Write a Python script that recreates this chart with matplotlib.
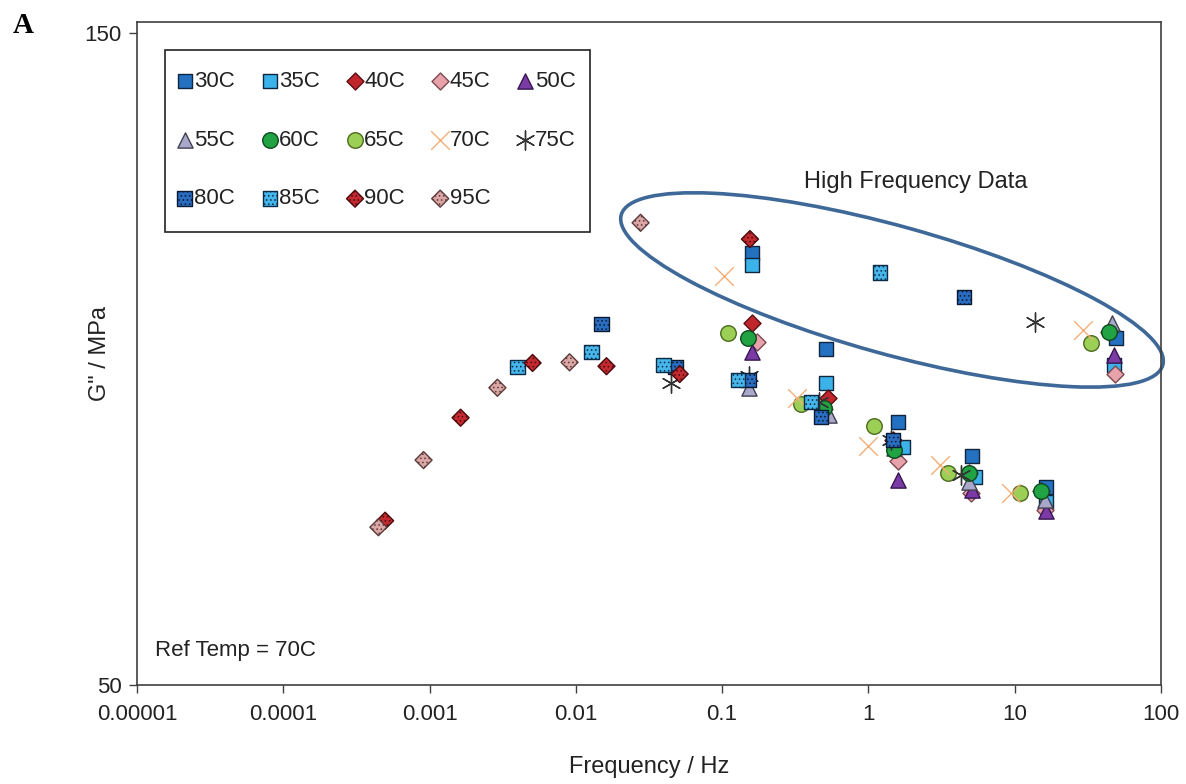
import matplotlib
matplotlib.use("Agg")
import matplotlib.pyplot as plt
from matplotlib.patches import Ellipse, Rectangle
from matplotlib.transforms import ScaledTranslation

plt.rcParams["font.family"] = ["Liberation Sans", "DejaVu Sans"]
plt.rcParams["hatch.linewidth"] = 0.6

# frequency (Hz) and G'' (MPa) per temperature
temps = ["30C", "35C", "40C", "45C", "50C", "55C", "60C",
         "65C", "70C", "75C", "80C", "85C", "90C", "95C"]

f_30 = [0.16, 0.51, 1.59, 5.1, 16.4, 49.4]
g_30 = [116.3, 101.5, 90.3, 85.1, 80.4, 103.2]
f_35 = [0.16, 0.51, 1.72, 5.36, 16.4, 48.0]
g_35 = [114.4, 96.3, 86.5, 81.9, 78.1, 99.1]
f_40 = [0.16, 0.53, 1.47, 4.87, 15.2, 44.3]
g_40 = [105.5, 94.0, 87.6, 82.5, 79.8, 104.1]
f_45 = [0.173, 0.5, 1.59, 5.05, 16.2, 48.7]
g_45 = [102.6, 92.3, 84.4, 79.5, 76.9, 97.7]
f_50 = [0.16, 0.53, 1.59, 5.1, 16.4, 48.0]
g_50 = [101.1, 91.6, 81.4, 79.9, 76.7, 100.6]
f_55 = [0.152, 0.54, 1.5, 4.9, 16.0, 46.0]
g_55 = [95.6, 91.4, 86.3, 81.1, 78.4, 105.5]
f_60 = [0.15, 0.495, 1.49, 4.87, 15.2, 44.3]
g_60 = [103.2, 92.5, 86.0, 82.5, 79.8, 104.1]
f_65 = [0.109, 0.345, 1.09, 3.5, 10.9, 33.3]
g_65 = [104.0, 93.1, 89.7, 82.5, 79.4, 102.5]
f_70 = [0.103, 0.325, 1.0, 3.09, 9.45, 29.4]
g_70 = [112.7, 94.0, 86.7, 83.7, 79.4, 104.4]
f_75 = [0.045, 0.152, 0.458, 1.43, 4.3, 13.8]
g_75 = [96.3, 97.4, 93.4, 87.6, 82.2, 105.7]
f_80 = [0.015, 0.048, 0.152, 0.473, 1.47, 4.51]
g_80 = [105.4, 98.8, 96.8, 91.1, 87.6, 109.5]
f_85 = [0.00399, 0.0128, 0.0398, 0.128, 0.404, 1.2]
g_85 = [98.8, 101.1, 99.1, 96.8, 93.4, 113.3]
f_90 = [0.000497, 0.00163, 0.00506, 0.0162, 0.0513, 0.155]
g_90 = [75.2, 91.0, 99.4, 98.9, 97.7, 118.4]
f_95 = [0.000447, 0.00091, 0.00291, 0.00906, 0.0277]
g_95 = [74.2, 84.5, 95.6, 99.5, 120.9]

freqs = [f_30, f_35, f_40, f_45, f_50, f_55, f_60,
         f_65, f_70, f_75, f_80, f_85, f_90, f_95]
moduli = [g_30, g_35, g_40, g_45, g_50, g_55, g_60,
          g_65, g_70, g_75, g_80, g_85, g_90, g_95]

# marker styles: (marker, size, face, edge, hatch)
styles = [
    ("s", 110, "#2471C1", "#10263f", None),
    ("s", 110, "#3BB3EA", "#10263f", None),
    ("D", 75, "#C0262C", "#5a1015", None),
    ("D", 75, "#E8A2AA", "#7a4a50", None),
    ("^", 120, "#7B3AA6", "#351650", None),
    ("^", 120, "#A9A8CA", "#404050", None),
    ("o", 125, "#21A344", "#0d4a1d", None),
    ("o", 125, "#9BCF55", "#4c6a1e", None),
    ("x", 180, "#F4AE78", "#F4AE78", None),
    ((6, 2, 0), 190, "#333333", "#333333", None),
    ("s", 110, "#2A6CC0", "#0b1a30", "...."),
    ("s", 110, "#45B5EA", "#0b2a45", "...."),
    ("D", 75, "#C22A30", "#4a0a0e", "...."),
    ("D", 75, "#DBA7A5", "#5a3a3a", "...."),
]

fig = plt.figure(figsize=(11.86, 7.84), dpi=100)
ax = fig.add_axes([0.1155, 0.1263, 0.8634, 0.8456])

handles = []
for name, fx, gy, (mk, sz, fc, ec, ht) in zip(temps, freqs, moduli, styles):
    if mk in ("x", (6, 2, 0)):
        h = ax.scatter(fx, gy, s=sz, marker=mk, c=fc, linewidths=1.0,
                       label=name, zorder=3)
    else:
        h = ax.scatter(fx, gy, s=sz, marker=mk, facecolors=fc, edgecolors=ec,
                       linewidths=1.0, hatch=ht, label=name, zorder=3)
    handles.append(h)

ax.set_xscale("log")
ax.set_xlim(1e-5, 100)
ax.set_ylim(50, 151.7)
xticks = [1e-5, 1e-4, 1e-3, 1e-2, 1e-1, 1, 10, 100]
xlabels = ["0.00001", "0.0001", "0.001", "0.01", "0.1", "1", "10", "100"]
ax.set_xticks(xticks)
ax.set_xticklabels(xlabels)
ax.xaxis.set_minor_locator(matplotlib.ticker.NullLocator())
ax.set_yticks([50, 150])
ax.set_yticklabels(["50", "150"])
ax.tick_params(axis="both", labelsize=16, length=6, width=1.0,
               color="#404040", labelcolor="#222222")
ax.tick_params(axis="x", pad=8)
ax.tick_params(axis="y", pad=5)
for sp in ax.spines.values():
    sp.set_color("#404040")
    sp.set_linewidth(1.2)

ax.set_xlabel("Frequency / Hz", fontsize=17, color="#222222", labelpad=22)
ax.set_ylabel('G" / MPa', fontsize=17, color="#222222", labelpad=-19)

# legend filled row by row (matplotlib fills column by column)
order = [0, 5, 10, 1, 6, 11, 2, 7, 12, 3, 8, 13, 4, 9]
leg = ax.legend([handles[i] for i in order], [temps[i] for i in order],
                ncol=5, loc="upper left", bbox_to_anchor=(0.027, 0.943),
                borderaxespad=0, fontsize=16, frameon=False,
                labelspacing=1.7, handlelength=0.8,
                handletextpad=0.02, columnspacing=1.18, borderpad=0.5,
                scatterpoints=1)
for t in leg.get_texts():
    t.set_color("#222222")
# the legend box has more room above and below than at the sides
ax.add_patch(Rectangle((0.0273, 0.683), 0.4151, 0.275, transform=ax.transAxes,
                       fill=True, facecolor="white", edgecolor="#222222",
                       linewidth=1.2, zorder=4))
leg.set_zorder(5)

# high-frequency ellipse, centred on a data point, sized in inches
ell = Ellipse((0, 0), width=5.62, height=1.28, angle=-15.5, fill=False,
              edgecolor="#3E6897", linewidth=2.6, clip_on=False,
              transform=fig.dpi_scale_trans + ScaledTranslation(1.45, 110.6, ax.transData))
ax.add_patch(ell)

ax.text(2.1, 127.2, "High Frequency Data", fontsize=17, color="#222222",
        ha="center", va="center")
ax.text(0.018, 0.052, "Ref Temp = 70C", transform=ax.transAxes,
        fontsize=16, color="#222222", ha="left", va="center")
fig.text(0.011, 0.968, "A", fontsize=21, fontweight="bold",
         family="Liberation Serif", ha="left", va="center")

fig.savefig("out.png", dpi=100)
plt.close(fig)
